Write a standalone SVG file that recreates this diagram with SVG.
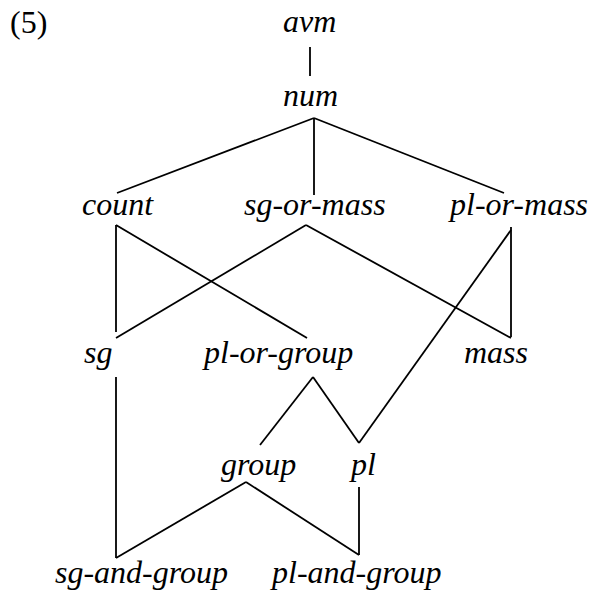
<svg xmlns="http://www.w3.org/2000/svg" width="590" height="592" viewBox="0 0 590 592">
<style>
.n text{font-style:italic}
#edges line{stroke:#000;stroke-width:1.8;stroke-linecap:butt}
</style>
<rect width="590" height="592" fill="#fff"/>
<g font-family="Liberation Serif, Times New Roman, serif" font-size="32" fill="#000">
<text x="10" y="33">(5)</text>
<g id="edges">
<line x1="310" y1="47" x2="310" y2="76"/>
<line x1="314" y1="118" x2="117" y2="193"/>
<line x1="314" y1="118" x2="314" y2="195"/>
<line x1="314" y1="118" x2="504" y2="193"/>
<line x1="116" y1="225" x2="116" y2="332"/>
<line x1="116" y1="225" x2="307" y2="338"/>
<line x1="306" y1="225" x2="116" y2="338"/>
<line x1="306" y1="225" x2="511" y2="338"/>
<line x1="511" y1="227" x2="511" y2="337"/>
<line x1="511" y1="230" x2="359" y2="443"/>
<line x1="116" y1="377" x2="116" y2="558"/>
<line x1="313" y1="377" x2="260" y2="445"/>
<line x1="313" y1="377" x2="359" y2="443"/>
<line x1="246" y1="482" x2="116" y2="558"/>
<line x1="246" y1="482" x2="359" y2="555"/>
<line x1="359" y1="487" x2="359" y2="555"/>
</g>
<g class="n" id="avm"><text x="283" y="32">avm</text></g>
<g class="n" id="num"><text x="283" y="106">num</text></g>
<g class="n" id="count"><text x="82" y="215">count</text></g>
<g class="n" id="sg-or-mass"><text x="244" y="215">sg-or-mass</text></g>
<g class="n" id="pl-or-mass"><text x="450" y="215">pl-or-mass</text></g>
<g class="n" id="sg"><text x="84" y="363">sg</text></g>
<g class="n" id="pl-or-group"><text x="204" y="363">pl-or-group</text></g>
<g class="n" id="mass"><text x="464" y="363">mass</text></g>
<g class="n" id="group"><text x="221" y="475">group</text></g>
<g class="n" id="pl"><text x="351" y="475">pl</text></g>
<g class="n" id="sg-and-group"><text x="55" y="583">sg-and-group</text></g>
<g class="n" id="pl-and-group"><text x="272" y="583">pl-and-group</text></g>
</g>
</svg>
